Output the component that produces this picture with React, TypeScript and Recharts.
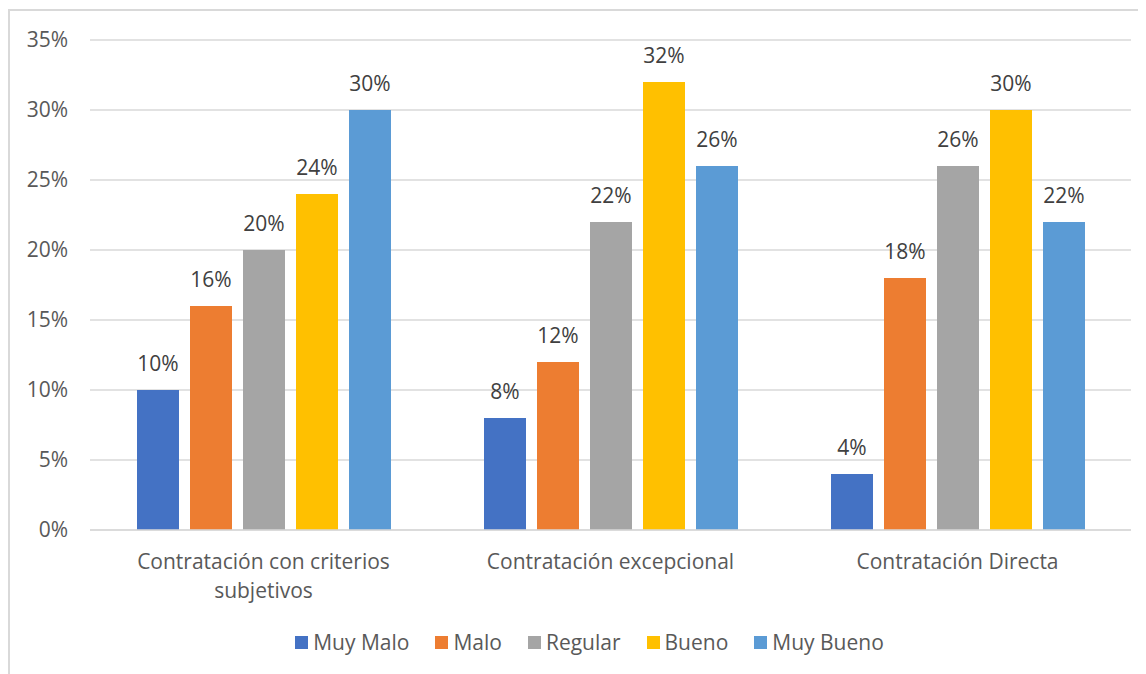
import React from "react";
import { BarChart, Bar, XAxis, YAxis, CartesianGrid, LabelList } from "recharts";

const categories = ["Contratación con criterios subjetivos", "Contratación excepcional", "Contratación Directa"];
const seriesNames = ["Muy Malo", "Malo", "Regular", "Bueno", "Muy Bueno"];
const muyMalo = [10, 8, 4];
const malo = [16, 12, 18];
const regular = [20, 22, 26];
const bueno = [24, 32, 30];
const muyBueno = [30, 26, 22];
const yTicks = [0, 5, 10, 15, 20, 25, 30, 35];
const colors = ["#4472C4", "#ED7D31", "#A5A5A5", "#FFC000", "#5B9BD5"];

const seriesValues = [muyMalo, malo, regular, bueno, muyBueno];
const data = categories.map((c, i) => {
  const row: Record<string, string | number> = { name: c };
  seriesNames.forEach((s, j) => {
    row[s] = seriesValues[j][i];
  });
  return row;
});

const FONT = "'Open Sans', sans-serif";
const FS = 21;
const MAX_CHARS = 28;

function wrap(text: string): string[] {
  const words = text.split(" ");
  const lines: string[] = [];
  let cur = "";
  words.forEach((w) => {
    const next = cur ? cur + " " + w : w;
    if (next.length > MAX_CHARS && cur) {
      lines.push(cur);
      cur = w;
    } else {
      cur = next;
    }
  });
  if (cur) lines.push(cur);
  return lines;
}

const XTick = (props: any) => {
  const { x, y, payload } = props;
  const lines = wrap(String(payload.value));
  return (
    <text x={x} y={y} textAnchor="middle" fontSize={FS} fontFamily={FONT} fill="#595959">
      {lines.map((l, i) => (
        <tspan key={i} x={x} dy={i === 0 ? "0.71em" : 29}>
          {l}
        </tspan>
      ))}
    </text>
  );
};

const LegendBox = () => (
  <div
    style={{
      position: "absolute",
      top: 620,
      left: 0,
      width: 1163,
      display: "flex",
      justifyContent: "center",
      alignItems: "center",
      fontFamily: FONT,
      fontSize: FS,
      color: "#595959",
    }}
  >
    {seriesNames.map((s, i) => (
      <div key={s} style={{ display: "flex", alignItems: "center", marginRight: i < seriesNames.length - 1 ? 26 : 0 }}>
        <div style={{ width: 13, height: 13, background: colors[i], marginRight: 5 }} />
        <span>{s}</span>
      </div>
    ))}
  </div>
);

export default function App() {
  return (
    <div style={{ position: "relative", width: 1138, height: 666, overflow: "hidden", background: "#fff" }}>
      <div style={{ position: "absolute", left: 0, top: 1, width: 1300, height: 800, border: "2px solid #d9d9d9", boxSizing: "border-box" }} />
      <BarChart
        width={1138}
        height={666}
        data={data}
        margin={{ top: 32, right: 15, left: 22, bottom: 64 }}
        barGap={11}
        barSize={42}
        style={{ position: "absolute", left: 0, top: 0 }}
      >
        <CartesianGrid vertical={false} stroke="#d9d9d9" strokeWidth={1.5} />
        <XAxis
          dataKey="name"
          height={80}
          axisLine={{ stroke: "#d9d9d9", strokeWidth: 1.5 }}
          tickLine={false}
          tick={<XTick />}
          tickMargin={18}
          interval={0}
        />
        <YAxis
          width={60}
          domain={[0, 35]}
          ticks={yTicks}
          tickFormatter={(v: number) => `${v}%`}
          axisLine={false}
          tickLine={false}
          tickSize={0}
          tickMargin={22}
          tick={{ fontSize: FS, fontFamily: FONT, fill: "#595959" }}
        />
        {seriesNames.map((s, i) => (
          <Bar key={s} dataKey={s} fill={colors[i]} isAnimationActive={false}>
            <LabelList
              dataKey={s}
              position="top"
              offset={19}
              formatter={(v: number) => `${v}%`}
              style={{ fontSize: FS, fontFamily: FONT, fill: "#404040" }}
            />
          </Bar>
        ))}
      </BarChart>
      <LegendBox />
    </div>
  );
}
